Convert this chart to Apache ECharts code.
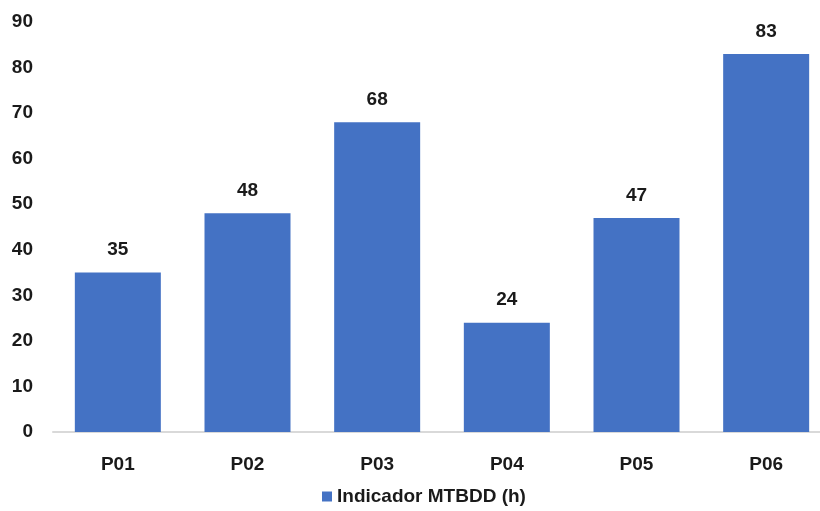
<!DOCTYPE html>
<html>
<head>
<meta charset="utf-8">
<script src="https://cdn.jsdelivr.net/npm/echarts@6/dist/echarts.min.js"></script>
<style>
  html, body { margin: 0; padding: 0; background: #ffffff; overflow: hidden; }
  /* the plot area runs a little past the right edge of the window */
  #chart { width: 832px; height: 511px; }
</style>
</head>
<body>
<div id="chart"></div>
<script>
// Categories (postos) and MTBDD values in hours
const categories = ['P01', 'P02', 'P03', 'P04', 'P05', 'P06'];
const mtbddValues = [35, 48, 68, 24, 47, 83];
const seriesName = 'Indicador MTBDD (h)';
const yTicks = { min: 0, max: 90, interval: 10 };

const fontFamily = '"Liberation Sans", Arial, sans-serif';
const textColor = '#1a1a1a';
const barColor = '#4472C4';

const chart = echarts.init(document.getElementById('chart'), null, { renderer: 'canvas' });

chart.setOption({
  animation: false,
  backgroundColor: '#ffffff',
  grid: { left: 53, right: 1, top: 22, bottom: 79, containLabel: false },
  legend: {
    data: [seriesName],
    bottom: 0,
    left: 317,
    icon: 'rect',
    itemWidth: 10,
    itemHeight: 10,
    itemGap: 6,
    textStyle: { fontFamily, fontSize: 19, fontWeight: 'bold', color: textColor }
  },
  xAxis: {
    type: 'category',
    data: categories,
    axisLine: { show: true, lineStyle: { color: '#d9d9d9', width: 2 } },
    axisTick: { show: false },
    axisLabel: { margin: 23, fontFamily, fontSize: 19, fontWeight: 'bold', color: textColor }
  },
  yAxis: {
    type: 'value',
    min: yTicks.min,
    max: yTicks.max,
    interval: yTicks.interval,
    splitLine: { show: false },
    axisLine: { show: false },
    axisTick: { show: false },
    axisLabel: { margin: 20, fontFamily, fontSize: 19, fontWeight: 'bold', color: textColor }
  },
  series: [{
    name: seriesName,
    type: 'bar',
    data: mtbddValues,
    barWidth: 86,
    itemStyle: { color: barColor },
    label: {
      show: true,
      position: 'top',
      distance: 13,
      fontFamily,
      fontSize: 19,
      fontWeight: 'bold',
      color: textColor
    }
  }]
});
</script>
</body>
</html>
